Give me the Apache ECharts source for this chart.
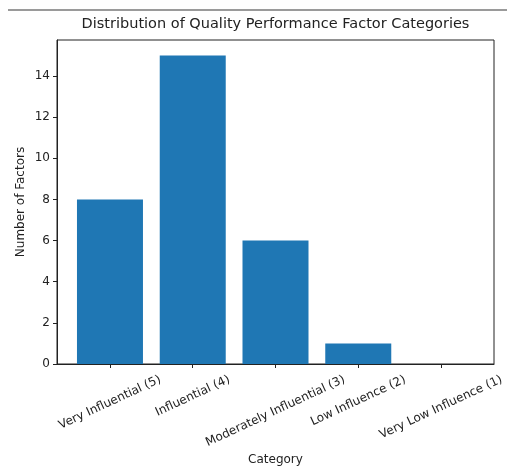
<!DOCTYPE html>
<html><head><meta charset="utf-8">
<script src="https://cdn.jsdelivr.net/npm/echarts@6/dist/echarts.min.js"></script>
<style>html,body{margin:0;padding:0;background:#fff}#c{width:507px;height:466px}</style>
</head><body><div id="c"></div>
<script>
const categories = ['Very Influential (5)', 'Influential (4)', 'Moderately Influential (3)', 'Low Influence (2)', 'Very Low Influence (1)'];
const counts = [8, 15, 6, 1, 0];
const yTicks = [0, 2, 4, 6, 8, 10, 12, 14];
const titleText = 'Distribution of Quality Performance Factor Categories';

const positions = categories.map((_, i) => i);
const FONT = 'DejaVu Sans';
const TXT = '#222';
const ROT = 25;
const TITLE_SIZE = 14.5;
const grid = { left: 57, right: 13, top: 40, bottom: 102 };
const W = 507;

const ctx = document.createElement('canvas').getContext('2d');
const sn = Math.sin(ROT * Math.PI / 180), cs = Math.cos(ROT * Math.PI / 180);
ctx.font = '12px "DejaVu Sans"';
const rich = {};
categories.forEach((t, i) => {
  const w = ctx.measureText(t).width;
  rich['l' + i] = { padding: [w * sn * cs, w * sn * sn, 0, 0], fontSize: 12, fontFamily: FONT, color: TXT };
});
ctx.font = TITLE_SIZE + 'px "DejaVu Sans"';
const titleW = ctx.measureText(titleText).width;
const plotCenter = grid.left + (W - grid.left - grid.right) / 2;

const chart = echarts.init(document.getElementById('c'), null, { renderer: 'canvas' });
chart.setOption({
  animation: false,
  backgroundColor: '#fff',
  textStyle: { fontFamily: FONT },
  title: {
    text: titleText, left: plotCenter - titleW / 2, top: 17, padding: 0,
    textStyle: { fontSize: TITLE_SIZE, fontWeight: 'normal', color: TXT, fontFamily: FONT }
  },
  graphic: [{
    type: 'line', shape: { x1: 8, y1: 10, x2: 507, y2: 10 },
    style: { stroke: '#9a9a9a', lineWidth: 2 }, silent: true
  }],
  grid: Object.assign({ show: true, borderColor: '#222', borderWidth: 1, containLabel: false, outerBoundsMode: 'none' }, grid),
  xAxis: {
    type: 'value', min: -0.64, max: 4.64,
    name: 'Category', nameLocation: 'middle', nameGap: 90, nameMoveOverlap: false,
    nameTextStyle: { fontSize: 12, color: TXT, fontFamily: FONT },
    axisLine: { show: true, onZero: false, lineStyle: { color: '#222', width: 1 } },
    axisTick: { show: true, customValues: positions, length: 4, lineStyle: { color: '#222' } },
    splitLine: { show: false },
    axisLabel: {
      customValues: positions, rotate: ROT, align: 'center', verticalAlign: 'middle', margin: 15,
      formatter: v => '{l' + v + '|' + categories[v] + '}', rich: rich,
      fontSize: 12, color: TXT, fontFamily: FONT
    }
  },
  yAxis: {
    type: 'value', min: 0, max: 15.75,
    name: 'Number of Factors', nameLocation: 'middle', nameGap: 30, nameMoveOverlap: false,
    nameTextStyle: { fontSize: 12, color: TXT, fontFamily: FONT },
    axisLine: { show: true, onZero: false, lineStyle: { color: '#222', width: 1 } },
    axisTick: { show: true, customValues: yTicks, length: 4, lineStyle: { color: '#222' } },
    splitLine: { show: false },
    axisLabel: { customValues: yTicks, margin: 7, fontSize: 12, color: TXT, fontFamily: FONT }
  },
  series: [{
    type: 'bar', barWidth: 66,
    data: positions.map((x, i) => [x, counts[i]]),
    itemStyle: { color: '#1f77b4' }
  }]
});
</script></body></html>
